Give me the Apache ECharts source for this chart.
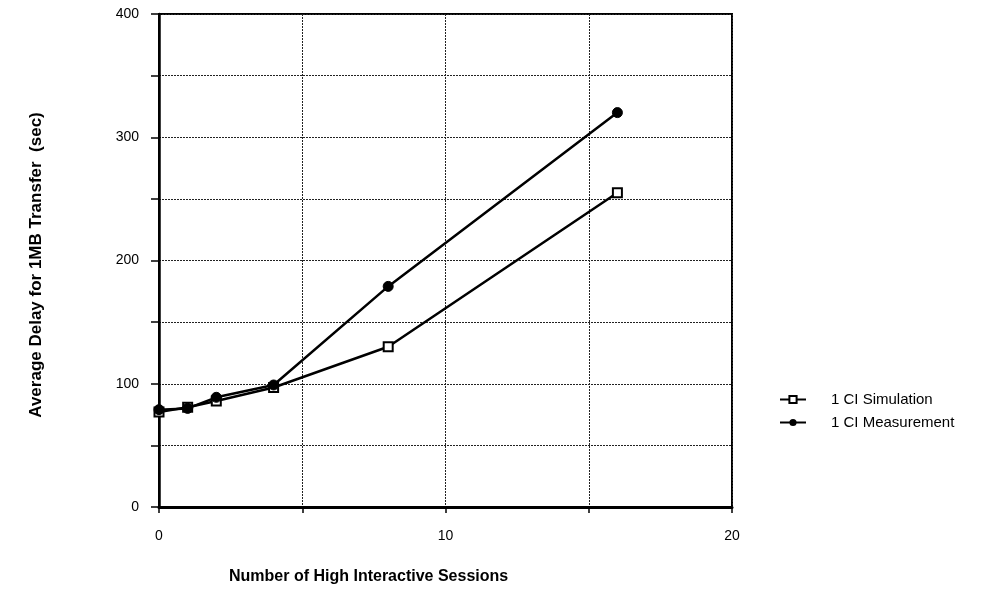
<!DOCTYPE html>
<html>
<head>
<meta charset="utf-8">
<script src="https://cdn.jsdelivr.net/npm/echarts@6/dist/echarts.min.js"></script>
<style>html,body{margin:0;padding:0;background:#fff;}#c{width:990px;height:594px;}</style>
</head>
<body>
<div id="c"></div>
<script>
var sessions = [0, 1, 2, 4, 8, 16];
var simulation = [77, 81, 86, 97, 130, 255];
var measurement = [79, 80, 89, 99, 179, 320];
var xTickLabels = ['0', '10', '20'];
var yTickLabels = ['0', '100', '200', '300', '400'];
var seriesNames = ['1 CI Simulation', '1 CI Measurement'];
var xTitle = 'Number of High Interactive Sessions';
var yTitle = 'Average Delay for 1MB Transfer  (sec)';

function pairs(xs, ys) { return xs.map(function (x, i) { return [x, ys[i]]; }); }

var chart = echarts.init(document.getElementById('c'));
var font = 'Liberation Sans, Arial, sans-serif';
chart.setOption({
  animation: false,
  backgroundColor: '#fff',
  grid: { left: 159, top: 14, width: 573, height: 493, show: true, borderColor: '#000', borderWidth: 2, backgroundColor: 'transparent' },
  xAxis: {
    type: 'value', min: 0, max: 20, interval: 5,
    axisLine: { show: true, lineStyle: { color: '#000', width: 3 } },
    axisTick: { show: true, length: 6, lineStyle: { color: '#000', width: 1.5 } },
    splitLine: { show: true, lineStyle: { color: '#222', type: [2, 1], width: 1 } },
    axisLabel: {
      color: '#000', fontFamily: font, fontSize: 14, margin: 22,
      formatter: function (v) { var i = xTickLabels.indexOf(String(v)); return i >= 0 ? xTickLabels[i] : ''; }
    }
  },
  yAxis: {
    type: 'value', min: 0, max: 400, interval: 50,
    axisLine: { show: true, lineStyle: { color: '#000', width: 2.5 } },
    axisTick: { show: true, length: 8, lineStyle: { color: '#000', width: 1.5 } },
    splitLine: { show: true, lineStyle: { color: '#222', type: [2, 1], width: 1 } },
    axisLabel: {
      color: '#000', fontFamily: font, fontSize: 14, margin: 20,
      formatter: function (v) { var i = yTickLabels.indexOf(String(v)); return i >= 0 ? yTickLabels[i] : ''; }
    }
  },
  legend: {
    orient: 'vertical', left: 774, top: 387, itemGap: 8, itemWidth: 26, itemHeight: 9,
    textStyle: { color: '#000', fontFamily: font, fontSize: 15, padding: [0, 0, 0, 20] },
    data: seriesNames
  },
  graphic: [
    { type: 'text', left: 229, top: 569, style: { text: xTitle, font: 'bold 16px ' + font, fill: '#000' } },
    { type: 'text', x: 36, y: 265, rotation: Math.PI / 2, style: { text: yTitle, font: 'bold 17px ' + font, fill: '#000', align: 'center', verticalAlign: 'middle' } }
  ],
  series: [
    {
      name: seriesNames[0], type: 'line', data: pairs(sessions, simulation),
      symbol: 'rect', symbolSize: 9, z: 3,
      itemStyle: { color: '#fff', borderColor: '#000', borderWidth: 2 },
      lineStyle: { color: '#000', width: 2.5 }
    },
    {
      name: seriesNames[1], type: 'line', data: pairs(sessions, measurement),
      symbol: 'circle', symbolSize: 10, z: 4,
      itemStyle: { color: '#000', borderColor: '#000' },
      lineStyle: { color: '#000', width: 2.5 }
    }
  ]
});
</script>
</body>
</html>
